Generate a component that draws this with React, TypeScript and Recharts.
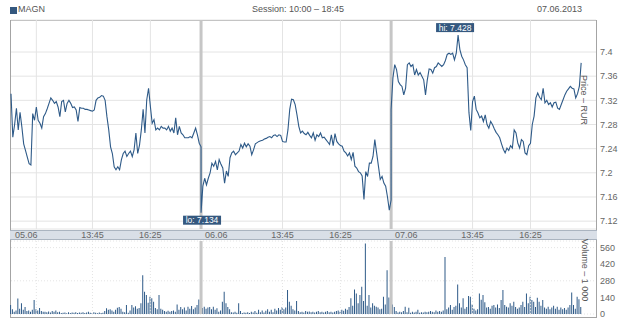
import React from 'react';
import {
  LineChart,
  Line,
  BarChart,
  Bar,
  XAxis,
  YAxis,
  CartesianGrid,
  ReferenceLine,
  ReferenceDot
} from 'recharts';

const ticker = 'MAGN';
const sessionLabel = 'Session: 10:00 – 18:45';
const tradeDate = '07.06.2013';
const sessionDates = ['05.06', '06.06', '07.06'];
const timeTicks = ['13:45', '16:25'];
const extraGrid = ['11:10'];
const priceTicks = [7.12, 7.16, 7.2, 7.24, 7.28, 7.32, 7.36, 7.4];
const volumeTicks = [0, 140, 280, 420, 560];

// 5-minute prices from 10:00 to 18:45, one list per session
const price0506 = [
  7.331, 7.259, 7.28, 7.307, 7.271, 7.3, 7.276, 7.248, 7.237, 7.226,
  7.215, 7.213, 7.298, 7.287, 7.309, 7.287, 7.282, 7.274, 7.293, 7.298,
  7.306, 7.315, 7.324, 7.32, 7.315, 7.318, 7.309, 7.293, 7.318, 7.32,
  7.301, 7.315, 7.32, 7.315, 7.308, 7.309, 7.304, 7.285, 7.308, 7.307,
  7.307, 7.305, 7.305, 7.304, 7.303, 7.302, 7.304, 7.32, 7.324, 7.325,
  7.328, 7.327, 7.32, 7.293, 7.271, 7.243, 7.232, 7.21, 7.205, 7.21,
  7.205, 7.222, 7.232, 7.236, 7.227, 7.232, 7.236, 7.227, 7.238, 7.266,
  7.232, 7.246, 7.271, 7.305, 7.266, 7.321, 7.34, 7.31, 7.282, 7.288,
  7.271, 7.274, 7.271, 7.277, 7.274, 7.274, 7.271, 7.277, 7.269, 7.274,
  7.266, 7.291, 7.263, 7.277, 7.266, 7.263, 7.258, 7.258, 7.258, 7.26,
  7.258, 7.266, 7.274, 7.263, 7.249, 7.243
];
const price0606 = [
  7.134, 7.178, 7.191, 7.18, 7.191, 7.2, 7.216, 7.211, 7.219, 7.205,
  7.222, 7.214, 7.208, 7.183, 7.203, 7.194, 7.225, 7.233, 7.236, 7.23,
  7.233, 7.236, 7.247, 7.241, 7.249, 7.243, 7.248, 7.244, 7.23, 7.238,
  7.248, 7.25, 7.252, 7.253, 7.254, 7.256, 7.257, 7.259, 7.26, 7.258,
  7.262, 7.263, 7.26, 7.263, 7.262, 7.252, 7.251, 7.251, 7.271, 7.305,
  7.322, 7.321, 7.313, 7.296, 7.277, 7.266, 7.269, 7.265, 7.263, 7.267,
  7.262, 7.258, 7.266, 7.254, 7.263, 7.26, 7.266, 7.258, 7.259, 7.255,
  7.251, 7.247, 7.263, 7.245, 7.265, 7.252, 7.248, 7.245, 7.244, 7.236,
  7.233, 7.228, 7.233, 7.222, 7.234, 7.211, 7.208, 7.202, 7.2, 7.195,
  7.156, 7.202, 7.194, 7.216, 7.216, 7.227, 7.255, 7.233, 7.211, 7.189,
  7.194, 7.183, 7.178, 7.16, 7.138, 7.155
];
const price0706 = [
  7.305, 7.357, 7.379, 7.371, 7.351, 7.346, 7.343, 7.329, 7.34, 7.379,
  7.382, 7.376, 7.379, 7.362, 7.371, 7.362, 7.366, 7.36, 7.354, 7.329,
  7.354, 7.372, 7.371, 7.365, 7.374, 7.376, 7.382, 7.379, 7.376, 7.379,
  7.386, 7.396, 7.398, 7.396, 7.398, 7.387, 7.398, 7.428, 7.404, 7.393,
  7.387, 7.379, 7.374, 7.3, 7.27, 7.318, 7.327, 7.305, 7.299, 7.291,
  7.294, 7.285, 7.296, 7.28, 7.274, 7.285, 7.28, 7.273, 7.267, 7.263,
  7.258, 7.248, 7.239, 7.233, 7.241, 7.237, 7.245, 7.241, 7.271, 7.266,
  7.249, 7.241, 7.255, 7.252, 7.233, 7.23, 7.245, 7.249, 7.28, 7.294,
  7.324, 7.332, 7.325, 7.321, 7.34, 7.316, 7.32, 7.313, 7.316, 7.309,
  7.316, 7.317, 7.307, 7.305, 7.313, 7.321, 7.329, 7.335, 7.339, 7.343,
  7.34, 7.339, 7.324, 7.331, 7.343, 7.382
];

// 5-minute volumes, thousands of shares
const volume0506 = [
  76, 40, 20, 30, 130, 45, 90, 35, 60, 25,
  30, 20, 35, 118, 40, 30, 50, 25, 20, 18,
  15, 22, 12, 25, 18, 30, 15, 20, 8, 10,
  12, 6, 15, 8, 12, 10, 15, 8, 12, 10,
  14, 9, 12, 18, 10, 8, 14, 10, 6, 12,
  8, 10, 25, 48, 35, 40, 30, 20, 35, 52,
  60, 45, 20, 15, 76, 10, 30, 76, 55, 65,
  45, 50, 90, 328, 188, 160, 95, 146, 132, 104,
  50, 40, 160, 45, 35, 25, 20, 28, 18, 25,
  30, 20, 81, 35, 60, 40, 55, 30, 62, 45,
  68, 40, 55, 75, 123, 60
];
const volume0606 = [
  80, 50, 62, 45, 55, 60, 40, 62, 35, 48,
  20, 30, 104, 188, 90, 60, 40, 15, 12, 20,
  10, 90, 25, 8, 12, 10, 15, 8, 20, 12,
  25, 10, 35, 15, 30, 12, 28, 40, 20, 35,
  15, 45, 30, 50, 35, 60, 40, 55, 202, 104,
  70, 40, 30, 109, 25, 15, 20, 12, 25, 18,
  22, 15, 20, 12, 18, 25, 15, 20, 12, 18,
  25, 15, 20, 12, 18, 25, 30, 20, 35, 28,
  45, 35, 60, 132, 70, 207, 174, 90, 160, 230,
  110, 594, 70, 160, 55, 90, 70, 62, 55, 40,
  45, 146, 80, 370, 140, 120
];
const volume0706 = [
  370, 80, 60, 25, 12, 20, 15, 25, 62, 15,
  52, 10, 18, 12, 20, 35, 10, 15, 12, 20,
  15, 18, 25, 20, 15, 30, 20, 25, 18, 30,
  482, 40, 55, 76, 35, 60, 70, 249, 90, 55,
  132, 45, 60, 151, 146, 80, 45, 30, 40, 174,
  120, 160, 100, 55, 60, 45, 70, 76, 55, 80,
  50, 118, 202, 76, 62, 55, 90, 70, 104, 60,
  45, 55, 76, 104, 60, 174, 90, 146, 118, 104,
  60, 137, 104, 70, 118, 55, 45, 62, 40, 55,
  70, 45, 62, 35, 55, 40, 50, 35, 55, 76,
  182, 76, 45, 146, 125, 60
];

const prices = [price0506, price0606, price0706];
const volumes = [volume0506, volume0606, volume0706];

const SESSION = 525; // minutes from 10:00 to 18:45
const STEP = 5;
const toMin = (hm: string) => {
  const [h, m] = hm.split(':').map(Number);
  return h * 60 + m - 600;
};

const priceData = prices.flatMap((arr, s) =>
  arr.map((p, i) => ({ t: s * SESSION + i * STEP, price: p }))
);
const volumeData = volumes.flatMap((arr, s) =>
  arr.map((v, i) => ({ t: s * SESSION + i * STEP, volume: v }))
);

const hi = priceData.reduce((a, b) => (b.price > a.price ? b : a));
const lo = priceData.reduce((a, b) => (b.price < a.price ? b : a));

const sessionStarts = sessionDates.map((_, s) => s * SESSION);
const timeTickValues = sessionDates.flatMap((_, s) => timeTicks.map((t) => s * SESSION + toMin(t)));
const gridValues = [...extraGrid.map(toMin), ...timeTickValues];
const xTicks = [...sessionStarts, ...timeTickValues].sort((a, b) => a - b);

const tickLabel = (v: number) => {
  const s = Math.floor(v / SESSION);
  const m = v - s * SESSION;
  if (m === 0) return sessionDates[s];
  const total = m + 600;
  return `${Math.floor(total / 60)}:${String(total % 60).padStart(2, '0')}`;
};

const X_DOMAIN: [number, number] = [0, 1616];
const LINE = '#2e5a88';
const GRID = '#e4e4e4';
const SEP = '#c6c6c6';
const FONT = '"Liberation Sans Narrow", "Arial Narrow", "Liberation Sans", Arial, sans-serif';
const textStyle = { fontFamily: FONT, fontSize: 9, fill: '#666' };

function XTick(props: any) {
  const { x, y, payload } = props;
  const isDate = payload.value % SESSION === 0;
  return (
    <text
      x={isDate ? x + 4 : x}
      y={y + 9}
      textAnchor={isDate ? 'start' : 'middle'}
      style={textStyle}
    >
      {tickLabel(payload.value)}
    </text>
  );
}

function Marker(props: any) {
  const { cx, cy, text, below } = props;
  const w = 38;
  const h = 9;
  const left = below ? cx - w / 2 + 1 : cx - w / 2 - 3;
  const top = below ? cy + 3 : cy - 3 - h;
  return (
    <g>
      <rect x={left} y={top} width={w} height={h} fill="#34587f" />
      <text x={left + w / 2} y={top + 7.5} textAnchor="middle" style={{ fontFamily: FONT, fontSize: 8.5, fill: '#fff' }}>
        {text}
      </text>
    </g>
  );
}

export default function App() {
  return (
    <div style={{ position: 'absolute', left: 0, top: 0, width: 640, height: 321, background: '#fff', fontFamily: FONT }}>
      {/* header */}
      <div style={{ position: 'absolute', left: 10, top: 7, width: 7, height: 7, background: '#34587f' }} />
      <div style={{ position: 'absolute', left: 18, top: 4, fontSize: 9, color: '#555' }}>{ticker}</div>
      <div style={{ position: 'absolute', left: 0, width: 596, top: 4, fontSize: 9, color: '#555', textAlign: 'center' }}>
        {sessionLabel}
      </div>
      <div style={{ position: 'absolute', right: 58, top: 4, fontSize: 9, color: '#555' }}>{tradeDate}</div>

      {/* frame and axis band */}
      <div style={{ position: 'absolute', left: 10, top: 20, width: 587, height: 298, boxSizing: 'border-box', border: '1px solid #a4a4a4' }} />
      <div style={{ position: 'absolute', left: 10, top: 230, width: 587, height: 10, boxSizing: 'border-box', background: '#d9dfe7', borderTop: '1px solid #aab4c0', borderBottom: '1px solid #aab4c0' }} />

      <div style={{ position: 'absolute', left: 0, top: 0 }}>
        <LineChart width={640} height={241} data={priceData} margin={{ top: 20, right: 0, bottom: 0, left: 11 }}>
          <CartesianGrid vertical={false} stroke={GRID} />
          <XAxis
            dataKey="t"
            type="number"
            domain={X_DOMAIN}
            ticks={xTicks}
            interval={0}
            axisLine={false}
            tickLine={false}
            tickSize={0}
            tickMargin={0}
            height={12}
            tick={<XTick />}
          />
          <YAxis
            orientation="right"
            width={44}
            domain={[7.107, 7.453]}
            ticks={priceTicks}
            axisLine={false}
            tickLine={false}
            tickSize={0}
            tickMargin={4}
            tick={textStyle}
            tickFormatter={(v: number) => String(Number(v.toFixed(2)))}
          />
          {gridValues.map((g) => (
            <ReferenceLine key={g} x={g} stroke={GRID} />
          ))}
          {sessionStarts.slice(1).map((s) => (
            <ReferenceLine key={`s${s}`} x={s} stroke={SEP} strokeWidth={3} />
          ))}
          <Line type="linear" dataKey="price" stroke={LINE} strokeWidth={1.1} dot={false} isAnimationActive={false} />
          <ReferenceDot
            x={hi.t}
            y={hi.price}
            r={0}
            shape={(p: any) => <Marker {...p} text={`hi: ${hi.price.toFixed(3)}`} />}
          />
          <ReferenceDot
            x={lo.t}
            y={lo.price}
            r={0}
            shape={(p: any) => <Marker {...p} below text={`lo: ${lo.price.toFixed(3)}`} />}
          />
        </LineChart>
      </div>

      <div style={{ position: 'absolute', left: 0, top: 240 }}>
        <BarChart width={640} height={81} data={volumeData} margin={{ top: 1, right: 0, bottom: 7, left: 11 }}>
          <CartesianGrid vertical={false} stroke={GRID} strokeDasharray="1 2" />
          <XAxis dataKey="t" type="number" domain={X_DOMAIN} hide />
          <YAxis
            orientation="right"
            width={44}
            domain={[0, 616]}
            ticks={volumeTicks}
            axisLine={false}
            tickLine={false}
            tickSize={0}
            tickMargin={4}
            tick={textStyle}
          />
          {gridValues.map((g) => (
            <ReferenceLine key={g} x={g} stroke={GRID} strokeDasharray="1 2" />
          ))}
          {sessionStarts.slice(1).map((s) => (
            <ReferenceLine key={`s${s}`} x={s} stroke={SEP} strokeWidth={3} />
          ))}
          <Bar dataKey="volume" fill={LINE} barSize={1} isAnimationActive={false} />
        </BarChart>
      </div>

      {/* rotated axis titles */}
      <div style={{ position: 'absolute', left: 584, top: 100, fontSize: 9, color: '#555', whiteSpace: 'nowrap', transform: 'translate(-50%, -50%) rotate(90deg)' }}>
        Price – RUR
      </div>
      <div style={{ position: 'absolute', left: 585, top: 270, fontSize: 9, color: '#555', whiteSpace: 'nowrap', transform: 'translate(-50%, -50%) rotate(90deg)' }}>
        Volume – 1 000
      </div>
    </div>
  );
}
